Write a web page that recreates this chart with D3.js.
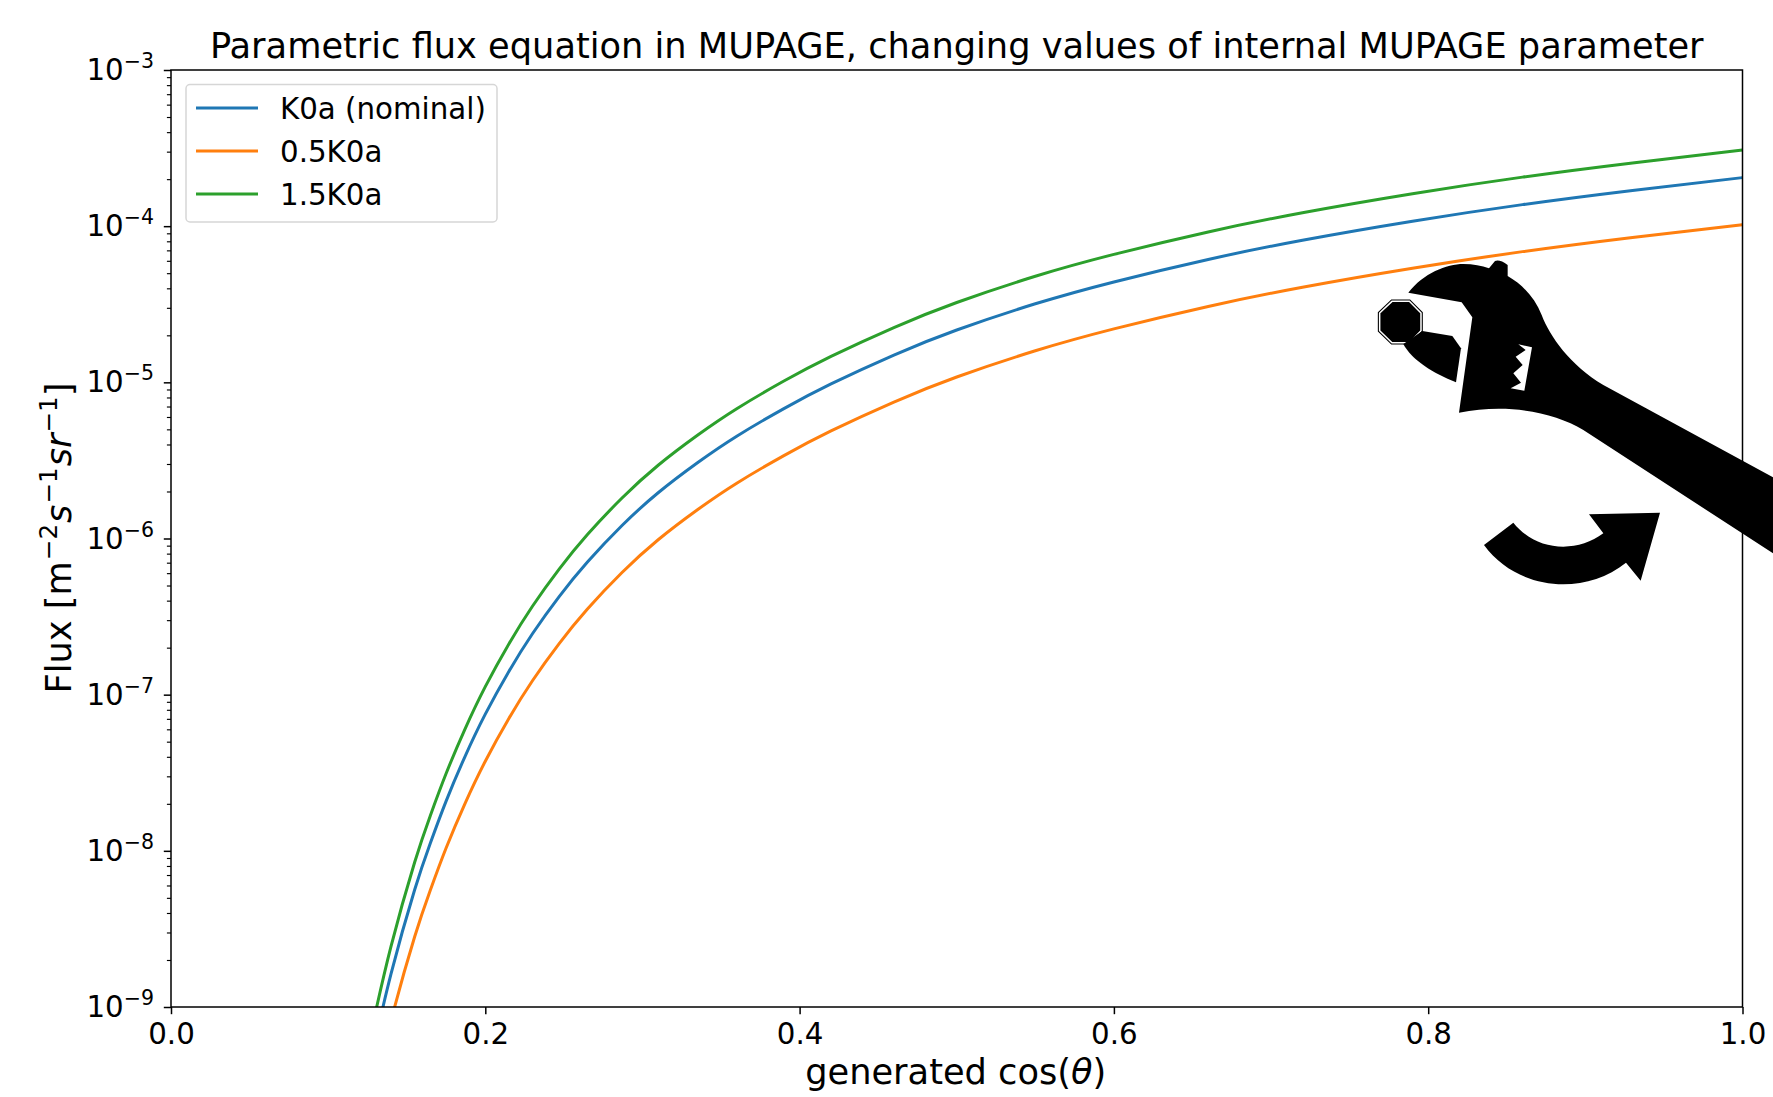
<!DOCTYPE html>
<html>
<head>
<meta charset="utf-8">
<script src="https://cdn.jsdelivr.net/npm/d3@7"></script>
<style>
  html, body { margin: 0; padding: 0; background: #fff; }
  svg { display: block; }
  text { font-family: "DejaVu Sans", sans-serif; fill: #000; }
</style>
</head>
<body>
<svg></svg>
<script>
// values
var cosTheta = [0.128, 0.140, 0.155, 0.165, 0.175, 0.187, 0.200, 0.215, 0.230, 0.247, 0.265, 0.287, 0.310, 0.335,
                0.360, 0.390, 0.420, 0.460, 0.500, 0.550, 0.600, 0.660, 0.720, 0.790, 0.860, 0.930, 1.000]
var nominal = [4.93e-10, 1.629e-9, 5.610e-9, 1.119e-8, 2.075e-8, 4.000e-8, 7.499e-8, 1.409e-7, 2.455e-7, 4.246e-7, 7.063e-7, 1.211e-6, 1.963e-6, 3.055e-6,
               4.519e-6, 6.792e-6, 9.772e-6, 1.496e-5, 2.163e-5, 3.184e-5, 4.395e-5, 6.124e-5, 8.128e-5, 1.076e-4, 1.374e-4, 1.694e-4, 2.046e-4]
var half = [2.465e-10, 8.145e-10, 2.805e-9, 5.595e-9, 1.038e-8, 2.000e-8, 3.750e-8, 7.045e-8, 1.228e-7, 2.123e-7, 3.532e-7, 6.055e-7, 9.815e-7, 1.528e-6,
            2.260e-6, 3.396e-6, 4.886e-6, 7.480e-6, 1.082e-5, 1.592e-5, 2.198e-5, 3.062e-5, 4.064e-5, 5.380e-5, 6.870e-5, 8.470e-5, 1.023e-4]
var oneHalf = [7.395e-10, 2.444e-9, 8.415e-9, 1.679e-8, 3.113e-8, 6.000e-8, 1.125e-7, 2.114e-7, 3.683e-7, 6.369e-7, 1.059e-6, 1.817e-6, 2.945e-6, 4.583e-6,
               6.779e-6, 1.019e-5, 1.466e-5, 2.244e-5, 3.245e-5, 4.776e-5, 6.593e-5, 9.186e-5, 1.219e-4, 1.614e-4, 2.061e-4, 2.541e-4, 3.069e-4]

var seriesNames = ['K0a (nominal)', '0.5K0a', '1.5K0a']
var seriesValues = [nominal, half, oneHalf]
var seriesColors = ['#1f77b4', '#ff7f0e', '#2ca02c']

var xTicks = [0, 0.2, 0.4, 0.6, 0.8, 1.0]
var yExponents = [-3, -4, -5, -6, -7, -8, -9]
var minorMultipliers = [2, 3, 4, 5, 6, 7, 8, 9]

var width = 1773
var height = 1097
var plotLeft = 171, plotRight = 1742.5, plotTop = 70, plotBottom = 1007
var tickFont = 29.3
var labelFont = 35.2

var svg = d3.select('svg').attr('width', width).attr('height', height)

var xScale = d3.scaleLinear().domain([0, 1]).range([plotLeft, plotRight])
var yScale = d3.scaleLog().domain([1e-9, 1e-3]).range([plotBottom, plotTop])

svg.append('defs').append('clipPath').attr('id', 'plot')
  .append('rect')
    .attr('x', plotLeft).attr('y', plotTop)
    .attr('width', plotRight - plotLeft).attr('height', plotBottom - plotTop)

// curves
var line = d3.line()
  .x(d => xScale(d[0]))
  .y(d => yScale(d[1]))
  .curve(d3.curveNatural)

svg.append('g').attr('clip-path', 'url(#plot)')
  .selectAll('path')
  .data(seriesValues)
  .enter()
  .append('path')
    .attr('d', vals => line(vals.map((v, i) => [cosTheta[i], v])))
    .attr('fill', 'none')
    .attr('stroke', (d, i) => seriesColors[i])
    .attr('stroke-width', 3)

// axes
var xAxis = d3.axisBottom(xScale).tickValues(xTicks).tickFormat(d3.format('.1f')).tickSize(7.2).tickPadding(9)
var xG = svg.append('g').attr('transform', 'translate(0,' + plotBottom + ')').call(xAxis)
xG.select('.domain').remove()
xG.selectAll('line').attr('stroke', '#000').attr('stroke-width', 1.5)
xG.selectAll('text').attr('font-size', tickFont).attr('font-family', '"DejaVu Sans"').attr('dy', '0.72em')

var yMajor = yExponents.map(e => Math.pow(10, e))
var yAxis = d3.axisLeft(yScale).tickValues(yMajor).tickFormat('').tickSize(7.2)
var yG = svg.append('g').attr('transform', 'translate(' + plotLeft + ',0)').call(yAxis)
yG.select('.domain').remove()
yG.selectAll('line').attr('stroke', '#000').attr('stroke-width', 1.5)

var yMinor = []
yExponents.slice(1).forEach(e => minorMultipliers.forEach(m => yMinor.push(m * Math.pow(10, e))))
var yMinorG = svg.append('g').attr('transform', 'translate(' + plotLeft + ',0)')
  .call(d3.axisLeft(yScale).tickValues(yMinor).tickFormat('').tickSize(4.1))
yMinorG.select('.domain').remove()
yMinorG.selectAll('line').attr('stroke', '#000').attr('stroke-width', 1.15)

// 10^n labels
yExponents.forEach(function(e) {
  var t = svg.append('text')
    .attr('x', 154)
    .attr('y', yScale(Math.pow(10, e)) + 10)
    .attr('text-anchor', 'end')
    .attr('font-size', tickFont)
  t.append('tspan').text('10')
  t.append('tspan').text('\u2212' + Math.abs(e))
    .attr('dy', -12).attr('font-size', 20.5)
})

// spines
svg.append('rect')
  .attr('x', plotLeft).attr('y', plotTop)
  .attr('width', plotRight - plotLeft).attr('height', plotBottom - plotTop)
  .attr('fill', 'none').attr('stroke', '#000').attr('stroke-width', 1.5)

// title and axis labels
svg.append('text')
  .attr('x', (plotLeft + plotRight) / 2).attr('y', 58)
  .attr('text-anchor', 'middle').attr('font-size', labelFont)
  .text('Parametric flux equation in MUPAGE, changing values of internal MUPAGE parameter')

var xLabel = svg.append('text')
  .attr('x', (plotLeft + plotRight) / 2 - 1).attr('y', 1084)
  .attr('text-anchor', 'middle').attr('font-size', labelFont)
xLabel.append('tspan').text('generated cos(')
xLabel.append('tspan').text('\u03b8').attr('font-style', 'italic')
xLabel.append('tspan').text(')')

var yLabel = svg.append('text')
  .attr('transform', 'translate(71,538) rotate(-90)')
  .attr('text-anchor', 'middle').attr('font-size', labelFont)
yLabel.append('tspan').text('Flux [m')
yLabel.append('tspan').text('\u22122').attr('dy', -14).attr('font-size', 24.6).attr('dx', 1)
yLabel.append('tspan').text('s').attr('dy', 14).attr('font-style', 'italic').attr('dx', 1)
yLabel.append('tspan').text('\u22121').attr('dy', -14).attr('font-size', 24.6).attr('dx', 1)
yLabel.append('tspan').text('sr').attr('dy', 14).attr('font-style', 'italic').attr('dx', 1)
yLabel.append('tspan').text('\u22121').attr('dy', -14).attr('font-size', 24.6).attr('dx', 1)
yLabel.append('tspan').text(']').attr('dy', 14)

// legend
svg.append('rect')
  .attr('x', 186).attr('y', 84.5).attr('width', 311).attr('height', 137.5).attr('rx', 4)
  .attr('fill', '#fff').attr('fill-opacity', 0.8)
  .attr('stroke', '#ccc').attr('stroke-opacity', 0.8).attr('stroke-width', 1.5)

var legendY = d3.scalePoint().domain(seriesNames).range([108, 194])
var legend = svg.selectAll('.legend-item')
  .data(seriesNames)
  .enter()
  .append('g')
    .classed('legend-item', true)
legend.append('line')
  .attr('x1', 196).attr('x2', 258)
  .attr('y1', d => legendY(d)).attr('y2', d => legendY(d))
  .attr('stroke', (d, i) => seriesColors[i]).attr('stroke-width', 3)
legend.append('text')
  .text(d => d)
  .attr('x', 280).attr('y', d => legendY(d) + 11)
  .attr('font-size', tickFont)

// wrench + arrow drawing, path units are 1/3 px from the corner of the picture region
var wrench = 'M205,158 C250,100 320,72 370,72 C400,72 425,77 447,85 L465,63 Q480,58 503,75 L503,108 ' +
  'C550,135 585,175 605,225 C630,290 690,375 790,435 L1299,712 L1299,940 L730,570 ' +
  'C640,515 500,490 357,518 L397,232 L365,187 Z'
var window_ = 'M535,313 L557,330 L527,350 L548,375 L520,400 L543,428 L512,445 L553,452 L576,322 Z'
var jaw = 'M348,427 L363,325 L337,288 L247,273 L190,312 C215,360 280,400 348,427 Z'
var nut = 'M156,184 L208,184 L243,219 L243,272 L208,308 L156,308 L119,272 L119,219 Z'
var arrow = 'M432,915 L520,848 C590,935 710,940 790,880 L747,823 L960,818 L902,1022 L858,968 ' +
  'C730,1070 530,1050 432,915 Z'

var art = svg.append('g').attr('transform', 'translate(1340,240) scale(0.33333)')
art.append('path').attr('d', nut).attr('fill', 'none').attr('stroke', '#000').attr('stroke-width', 11)
art.append('path').attr('d', nut).attr('fill', '#000').attr('stroke', '#fff').attr('stroke-width', 4.5)
art.append('path').attr('d', wrench).attr('fill', '#000')
art.append('path').attr('d', window_).attr('fill', '#fff')
art.append('path').attr('d', jaw).attr('fill', '#000')
art.append('path').attr('d', arrow).attr('fill', '#000')
</script>
</body>
</html>
